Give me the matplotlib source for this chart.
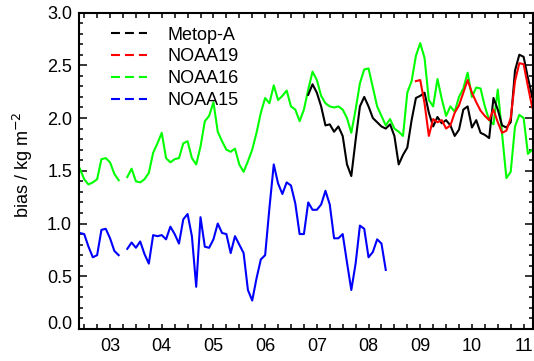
import numpy as np
import matplotlib.pyplot as plt
from matplotlib.lines import Line2D
from matplotlib.ticker import FixedLocator, MultipleLocator

plt.rcParams['font.family'] = ['Liberation Sans', 'DejaVu Sans']

nan = np.nan

# monthly bias values, each series starts at (year, month)
noaa15_start = (2002, 6)
noaa15 = [0.91, 0.90, 0.78, 0.68, 0.70, 0.94, 0.95, 0.86, 0.74, 0.70, nan,
          0.76, 0.82, 0.77, 0.83, 0.71, 0.62, 0.89, 0.88, 0.89, 0.85, 0.97,
          0.90, 0.81, 1.04, 1.09, 0.88, 0.40, 1.06, 0.78, 0.77, 0.85, 1.00,
          0.91, 0.90, 0.72, 0.88, 0.80, 0.72, 0.37, 0.27, 0.48, 0.66, 0.70,
          1.15, 1.56, 1.38, 1.28, 1.39, 1.36, 1.19, 0.90, 0.90, 1.20, 1.13,
          1.13, 1.18, 1.31, 1.18, 0.86, 0.86, 0.90, 0.63, 0.37, 0.62, 0.98,
          0.95, 0.68, 0.73, 0.85, 0.81, 0.56]

noaa16_start = (2002, 6)
noaa16 = [1.52, 1.42, 1.37, 1.39, 1.42, 1.61, 1.62, 1.58, 1.47, 1.41, nan,
          1.44, 1.52, 1.40, 1.39, 1.42, 1.48, 1.67, 1.76, 1.86, 1.62, 1.58,
          1.61, 1.62, 1.76, 1.78, 1.62, 1.56, 1.73, 1.97, 2.02, 2.15, 1.87,
          1.78, 1.70, 1.68, 1.71, 1.56, 1.49, 1.59, 1.70, 1.86, 2.05, 2.19,
          2.14, 2.31, 2.17, 2.21, 2.26, 2.11, 2.08, 1.97, 2.08, 2.27, 2.44,
          2.36, 2.21, 2.14, 2.11, 2.10, 2.11, 2.08, 2.00, 1.86, 2.08, 2.33,
          2.46, 2.47, 2.29, 2.11, 2.02, 1.93, 1.99, 1.90, 1.87, 1.83, 2.24,
          2.35, 2.59, 2.71, 2.57, 2.17, 2.11, 2.37, 2.18, 2.02, 2.11, 2.06,
          2.20, 2.28, 2.43, 2.20, 2.29, 2.28, 2.11, 1.98, 1.94, 2.27, 1.85,
          1.43, 1.49, 1.92, 2.03, 2.00, 1.66, 1.70, 1.64]

metopa_start = (2006, 11)
metopa = [2.22, 2.32, 2.24, 2.11, 1.93, 1.94, 1.87, 1.92, 1.83, 1.56, 1.45,
          1.79, 2.11, 2.20, 2.11, 2.00, 1.96, 1.92, 1.90, 1.94, 1.83, 1.56,
          1.65, 1.72, 1.98, 2.19, 2.21, 2.24, 2.05, 1.92, 2.01, 1.95, 1.98,
          1.93, 1.83, 1.89, 2.08, 2.11, 1.91, 1.98, 1.86, 1.84, 1.81, 2.19,
          2.08, 1.93, 1.91, 1.96, 2.45, 2.60, 2.58, 2.38, 2.20]

noaa19_start = (2008, 12)
noaa19 = [2.35, 2.36, 2.14, 1.83, 1.99, 1.96, 1.98, 1.90, 1.93, 2.05, 2.12,
          2.24, 2.36, 2.24, 2.15, 2.07, 2.02, 1.98, 2.08, 1.96, 1.86, 1.88,
          2.00, 2.35, 2.52, 2.51, 2.30, 2.10]

year_ticks = [2003, 2004, 2005, 2006, 2007, 2008, 2009, 2010, 2011]
year_labels = ['03', '04', '05', '06', '07', '08', '09', '10', '11']


def month_axis(start, n):
    y, m = start
    return y + (m - 1 + np.arange(n)) / 12.0


fig = plt.figure(figsize=(5.34, 3.61), dpi=100)
ax = fig.add_axes([0.148, 0.0886, 0.850, 0.8767])

series = [('Metop-A', metopa_start, metopa, '#000000'),
          ('NOAA19', noaa19_start, noaa19, '#ff0000'),
          ('NOAA16', noaa16_start, noaa16, '#00ff00'),
          ('NOAA15', noaa15_start, noaa15, '#0000ff')]

# draw order: green under black/red like the original
for name, start, vals, col in [series[3], series[2], series[0], series[1]]:
    ax.plot(month_axis(start, len(vals)), vals, color=col, lw=1.5)

ax.set_xlim(2002.40, 2011.18)
ax.set_ylim(0, 3.0)

ax.xaxis.set_major_locator(FixedLocator(year_ticks))
ax.set_xticklabels(year_labels)
ax.xaxis.set_minor_locator(MultipleLocator(0.25))
ax.yaxis.set_major_locator(MultipleLocator(0.5))
ax.yaxis.set_minor_locator(MultipleLocator(0.1))
ax.yaxis.set_major_formatter(plt.FormatStrFormatter('%.1f'))

ax.tick_params(axis='both', which='both', direction='in', top=True, right=True,
               width=1.1, labelsize=13, color='black')
ax.tick_params(axis='x', which='both', length=3.8, pad=6.5)
ax.tick_params(axis='y', which='major', length=5.5, pad=5)
ax.tick_params(axis='y', which='minor', length=2.8)
for sp in ax.spines.values():
    sp.set_linewidth(1.5)

ax.set_ylabel('bias / kg m$^{-2}$', fontsize=13)
ax.yaxis.set_label_coords(-0.0965, 0.52)

handles = [Line2D([], [], color=col, lw=1.5, ls=(0, (4.3, 2.4)))
           for name, start, vals, col in series]
ax.legend(handles, [s[0] for s in series], loc='upper left',
          bbox_to_anchor=(0.07, 0.955), frameon=False, fontsize=13,
          handlelength=2.0, handletextpad=1.15, labelspacing=0.26,
          borderpad=0, borderaxespad=0)

# the 0.0 label sits just above the x axis, as in the original
fig.canvas.draw()
for lab in ax.get_yticklabels():
    if lab.get_text() == '0.0':
        lab.set_va('baseline')

fig.savefig('out.png', dpi=100)
